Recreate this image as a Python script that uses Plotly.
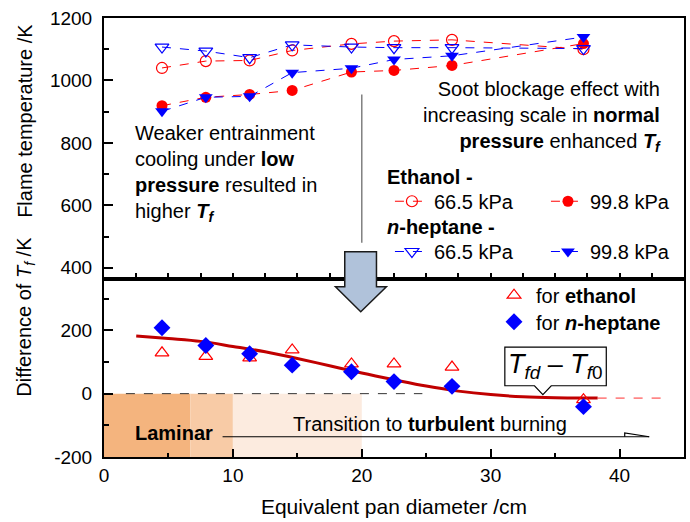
import plotly.graph_objects as go

# ---------------- data ----------------
pan_d = [4.5, 7.9, 11.3, 14.6, 19.2, 22.5, 27.0, 37.2]          # cm
eth_665 = [1040, 1062, 1064, 1096, 1117, 1126, 1130, 1100]       # K
eth_998 = [919, 946, 955, 968, 1027, 1032, 1048, 1118]
hep_665 = [1107, 1094, 1073, 1114, 1107, 1105, 1105, 1102]
hep_998 = [901, 946, 949, 1025, 1039, 1067, 1079, 1139]
diff_eth = [129, 118, 113, 138, 94, 94, 84, -19]
diff_hep = [208, 152, 126, 90, 69, 38, 23, -41]
fit_x = [2.5, 5, 7.5, 10, 12.5, 15, 17.5, 20, 22.5, 25, 27.5, 30, 32.5, 35, 38.3]
fit_y = [182, 174, 165, 149, 132, 111, 88, 65, 44, 24, 8, -3, -10, -13, -14]
fit_ext_x = [38.3, 43.2]
fit_ext_y = [-14, -14]
zero_x = [1.7, 24.7]
zero_y = [0, 0]
regimes = [(0, 6.7, "#F4B47E"), (6.7, 10, "#F8CBA6"), (10, 20, "#FCEBDF")]
y_ticks = [-200, 0, 200]
y_ticktext = ["-200", "0", "200"]

FONT = "Arial, Liberation Sans, sans-serif"
RED = "#FF0000"
BLUE = "#0000FF"

fig = go.Figure()

# ---------------- top panel ----------------
fig.add_trace(go.Scatter(x=pan_d, y=eth_665, xaxis="x2", yaxis="y2", mode="lines+markers",
                         name="66.5 kPa", legend="legend",
                         line=dict(color=RED, width=1, dash="dash"),
                         marker=dict(symbol="circle-open", size=11, color=RED, line=dict(width=1.2))))
fig.add_trace(go.Scatter(x=pan_d, y=eth_998, xaxis="x2", yaxis="y2", mode="lines+markers",
                         name="99.8 kPa", legend="legend2",
                         line=dict(color=RED, width=1, dash="dash"),
                         marker=dict(symbol="circle", size=11, color=RED)))
fig.add_trace(go.Scatter(x=pan_d, y=hep_665, xaxis="x2", yaxis="y2", mode="lines+markers",
                         name="66.5 kPa", legend="legend3",
                         line=dict(color=BLUE, width=1, dash="dash"),
                         marker=dict(symbol="triangle-down-open", size=12, color=BLUE, line=dict(width=1.2))))
fig.add_trace(go.Scatter(x=pan_d, y=hep_998, xaxis="x2", yaxis="y2", mode="lines+markers",
                         name="99.8 kPa", legend="legend4",
                         line=dict(color=BLUE, width=1, dash="dash"),
                         marker=dict(symbol="triangle-down", size=12, color=BLUE)))

# ---------------- bottom panel ----------------
fig.add_trace(go.Scatter(x=zero_x, y=zero_y, mode="lines", showlegend=False,
                         line=dict(color="#333333", width=1, dash="dash")))
fig.add_trace(go.Scatter(x=fit_x, y=fit_y, mode="lines", showlegend=False,
                         line=dict(color="#C00000", width=3, shape="spline")))
fig.add_trace(go.Scatter(x=fit_ext_x, y=fit_ext_y, mode="lines", showlegend=False,
                         line=dict(color="#FF3030", width=1, dash="dash")))
fig.add_trace(go.Scatter(x=pan_d, y=diff_eth, mode="markers", name="for <b>ethanol</b>",
                         legend="legend5",
                         marker=dict(symbol="triangle-up-open", size=12, color=RED, line=dict(width=1.2))))
fig.add_trace(go.Scatter(x=pan_d, y=diff_hep, mode="markers", name="for <b><i>n</i>-heptane</b>",
                         legend="legend6",
                         marker=dict(symbol="diamond", size=13, color=BLUE)))

shapes = []
for x0, x1, c in regimes:
    shapes.append(dict(type="rect", xref="x", yref="y", x0=x0, x1=x1, y0=-200, y1=0,
                       fillcolor=c, line=dict(width=0), layer="below"))
# guide line in top panel
shapes.append(dict(type="line", xref="x2", yref="y2", x0=20, x1=20, y0=955, y1=480,
                   line=dict(color="#808080", width=1.5)))
# big block arrow between panels
shapes.append(dict(type="path", xref="x", yref="paper",
                   path="M 18.68,0.4677 L 21.14,0.4677 L 21.14,0.388 L 21.91,0.388 L 19.92,0.331 "
                        "L 17.96,0.388 L 18.68,0.388 Z",
                   fillcolor="#B0C2DA", line=dict(color="#1a1a1a", width=1.5)))
# transition arrow
shapes.append(dict(type="line", xref="x", yref="y", x0=9.2, x1=42.3, y0=-136, y1=-136,
                   line=dict(color="black", width=1.2)))
shapes.append(dict(type="path", xref="x", yref="y",
                   path="M 40.4,-136 L 40.4,-124 L 42.3,-136",
                   line=dict(color="black", width=1.2)))
# callout box
shapes.append(dict(type="path", xref="x", yref="y",
                   path="M 31.1,25 L 33.4,25 L 34.05,-3 L 34.7,25 L 38.97,25 L 38.97,147 L 31.1,147 Z",
                   fillcolor="white", line=dict(color="black", width=1.2)))

annotations = [
    dict(text="Weaker entrainment<br>cooling under <b>low</b><br><b>pressure</b> resulted in<br>higher <b><i>T<sub>f</sub></i></b>",
         xref="x2", yref="y2", x=2.25, y=701, xanchor="left", yanchor="middle", align="left",
         showarrow=False, font=dict(size=20, color="black")),
    dict(text="Soot blockage effect with<br>increasing scale in <b>normal</b><br><b>pressure</b> enhanced <b><i>T<sub>f</sub></i></b>",
         xref="x2", yref="y2", x=43.35, y=886, xanchor="right", yanchor="middle", align="right",
         showarrow=False, font=dict(size=20, color="black")),
    dict(text="<b>Ethanol -</b>", xref="x2", yref="y2", x=21.8, y=692, xanchor="left", yanchor="middle",
         showarrow=False, font=dict(size=20, color="black")),
    dict(text="<b><i>n</i>-heptane -</b>", xref="x2", yref="y2", x=21.8, y=530, xanchor="left", yanchor="middle",
         showarrow=False, font=dict(size=20, color="black")),
    dict(text="<b>Laminar</b>", xref="x", yref="y", x=5.4, y=-123, showarrow=False,
         font=dict(size=20, color="black")),
    dict(text="Transition to <b>turbulent</b> burning", xref="x", yref="y", x=25.3, y=-95,
         showarrow=False, font=dict(size=20, color="black")),
    dict(text="<i>T</i><sub><i>fd</i></sub> \u2013 <i>T</i><sub><i>f</i>0</sub>", xref="x", yref="y",
         x=35.0, y=86, showarrow=False, font=dict(size=27, color="black")),
    dict(text="Flame temperature /K", xref="paper", yref="paper", x=-0.136, y=0.766,
         xanchor="center", yanchor="middle", textangle=-90, showarrow=False,
         font=dict(size=20, color="black")),
    dict(text="Difference of <i>T<sub>f</sub></i> /K", xref="paper", yref="paper", x=-0.136, y=0.32,
         xanchor="center", yanchor="middle", textangle=-90, showarrow=False,
         font=dict(size=20, color="black")),
]

axis_common = dict(showgrid=False, zeroline=False, showline=True, linecolor="black", linewidth=2,
                   mirror=True, ticks="inside", tickcolor="black", tickwidth=1.5, automargin=False,
                   tickfont=dict(size=19, color="black"))

def leg(x, y):
    return dict(orientation="v", x=x, y=y, xref="paper", yref="paper", xanchor="left", yanchor="top",
                bgcolor="rgba(0,0,0,0)", font=dict(size=20, color="black"), tracegroupgap=0,
                itemwidth=34, borderwidth=0)

fig.update_layout(
    width=690, height=522,
    margin=dict(l=104, r=6, t=18, b=65, autoexpand=False),
    paper_bgcolor="white", plot_bgcolor="white",
    font=dict(family=FONT, color="black"),
    xaxis=dict(axis_common, domain=[0, 1], range=[0, 45], anchor="y", dtick=10, ticklen=8,
               minor=dict(dtick=5, ticklen=4, ticks="inside", tickcolor="black", tickwidth=1.5),
               title=dict(text="Equivalent pan diameter /cm", font=dict(size=21))),
    yaxis=dict(axis_common, domain=[0, 0.4055], range=[-200, 362], anchor="x",
               tickvals=y_ticks, ticktext=y_ticktext, ticklen=9,
               minor=dict(dtick=100, ticklen=5, ticks="inside", tickcolor="black", tickwidth=1.5),
               ticklabelstandoff=6),
    xaxis2=dict(axis_common, domain=[0, 1], range=[0, 45], anchor="y2", matches="x",
                dtick=2.5, ticklen=6, showticklabels=False),
    yaxis2=dict(axis_common, domain=[0.4055, 1], range=[364, 1200], anchor="x2", dtick=200, ticklen=9,
                minor=dict(dtick=100, ticklen=5, ticks="inside", tickcolor="black", tickwidth=1.5),
                ticklabelstandoff=6),
    legend=leg(0.493, 0.627),
    legend2=leg(0.762, 0.627),
    legend3=leg(0.493, 0.5125),
    legend4=leg(0.762, 0.5125),
    legend5=leg(0.669, 0.413),
    legend6=leg(0.669, 0.3526),
    shapes=shapes,
    annotations=annotations,
)

fig.write_html("out.html", config={"displayModeBar": False},
               post_script="document.body.style.margin='0';")
